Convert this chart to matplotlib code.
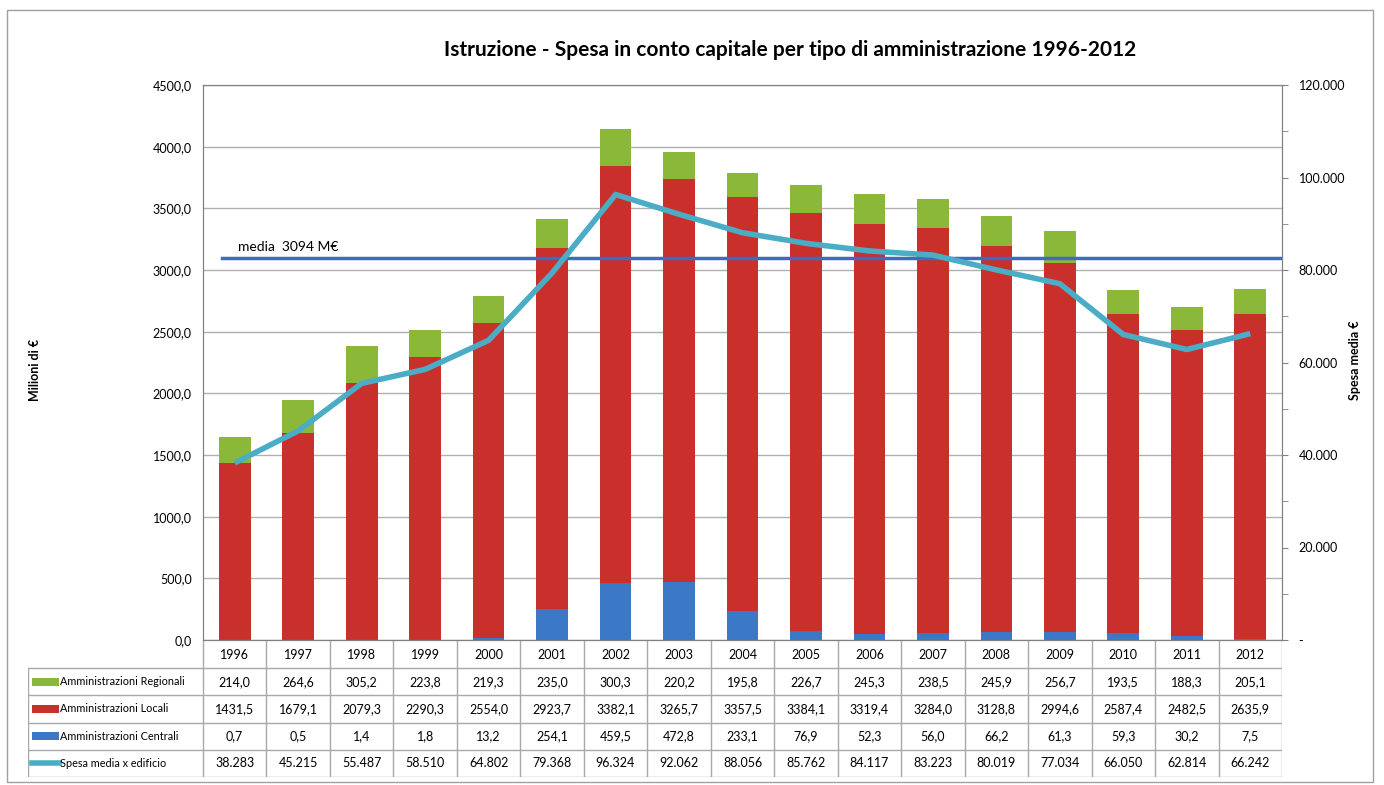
import matplotlib.pyplot as plt
from matplotlib.patches import Rectangle
from matplotlib.ticker import FuncFormatter, MultipleLocator

years = [str(y) for y in range(1996, 2013)]
regionali = [214.0, 264.6, 305.2, 223.8, 219.3, 235.0, 300.3, 220.2, 195.8,
             226.7, 245.3, 238.5, 245.9, 256.7, 193.5, 188.3, 205.1]
locali = [1431.5, 1679.1, 2079.3, 2290.3, 2554.0, 2923.7, 3382.1, 3265.7, 3357.5,
          3384.1, 3319.4, 3284.0, 3128.8, 2994.6, 2587.4, 2482.5, 2635.9]
centrali = [0.7, 0.5, 1.4, 1.8, 13.2, 254.1, 459.5, 472.8, 233.1,
            76.9, 52.3, 56.0, 66.2, 61.3, 59.3, 30.2, 7.5]
spesa_media = [38283, 45215, 55487, 58510, 64802, 79368, 96324, 92062, 88056,
               85762, 84117, 83223, 80019, 77034, 66050, 62814, 66242]
media = 3094

c_green = "#8cb83a"
c_red = "#c9302c"
c_blue = "#3b78c8"
c_line = "#4bacc6"
c_media = "#3a6cc0"
grid_c = "#b0b0b0"

plt.rcParams["font.family"] = ["Lato", "DejaVu Sans"]

W, H = 1384, 785
fig = plt.figure(figsize=(W / 100, H / 100), dpi=100)


def px(x0, y0, x1, y1):
    return [x0 / W, 1 - y1 / H, (x1 - x0) / W, (y1 - y0) / H]


# outer frame
fig.patches.append(Rectangle((7 / W, 3 / H), 1366 / W, (H - 13) / H,
                             transform=fig.transFigure, fill=False,
                             ec="#a0a0a0", lw=1))

ax = fig.add_axes(px(203, 85, 1282, 640))
x = list(range(len(years)))
ax.bar(x, centrali, width=0.5, color=c_blue, zorder=2)
bottom2 = [c for c in centrali]
ax.bar(x, locali, width=0.5, bottom=bottom2, color=c_red, zorder=2)
bottom3 = [c + l for c, l in zip(centrali, locali)]
ax.bar(x, regionali, width=0.5, bottom=bottom3, color=c_green, zorder=2)

ax.set_xlim(-0.5, len(years) - 0.5)
ax.set_ylim(0, 4500)
ax.yaxis.set_major_locator(MultipleLocator(500))
ax.yaxis.set_major_formatter(FuncFormatter(lambda v, p: f"{v:.1f}".replace(".", ",")))
ax.grid(axis="y", color=grid_c, lw=1, zorder=0)
ax.set_xticks([])
ax.tick_params(axis="y", length=0, labelsize=9, pad=8)
for s in ax.spines.values():
    s.set_color("#808080")

ax.plot([-0.2, 16.6], [media, media], color=c_media, lw=2.5, zorder=3)
ax.text(0.05, media + 40, "media  3094 M€", fontsize=10, va="bottom", zorder=4)

ax2 = ax.twinx()
ax2.plot(x, spesa_media, color=c_line, lw=4, zorder=5, solid_capstyle="butt")
ax2.set_ylim(0, 120000)
ax2.yaxis.set_major_locator(MultipleLocator(20000))
ax2.yaxis.set_minor_locator(MultipleLocator(10000))
ax2.yaxis.set_major_formatter(FuncFormatter(
    lambda v, p: "-" if v == 0 else f"{int(v):,}".replace(",", ".")))
ax2.tick_params(axis="y", which="both", length=4, color="#808080", labelsize=9, pad=8)
for s in ax2.spines.values():
    s.set_color("#808080")

fig.text(35 / W, 1 - 370 / H, "Milioni di €", rotation=90, fontsize=9,
         fontweight="bold", ha="center", va="center")
fig.text(1355 / W, 1 - 360 / H, "Spesa media €", rotation=90, fontsize=9,
         fontweight="bold", ha="center", va="center")

fig.text(790 / W, 1 - 50 / H,
         "Istruzione - Spesa in conto capitale per tipo di amministrazione 1996-2012",
         fontsize=15, fontweight="bold", ha="center", va="center")

# data table
lab_w = (203 - 28) / 63.47
tab = fig.add_axes(px(28, 641, 1282, 777))
tab.set_xlim(-0.5 - lab_w, len(years) - 0.5)
tab.set_ylim(5, 0)
tab.axis("off")
line_c = "#a8a8a8"
row_names = ["Amministrazioni Regionali", "Amministrazioni Locali",
             "Amministrazioni Centrali", "Spesa media x edificio"]
row_colors = [c_green, c_red, c_blue, c_line]
rows = [
    [f"{v:.1f}".replace(".", ",") for v in regionali],
    [f"{v:.1f}".replace(".", ",") for v in locali],
    [f"{v:.1f}".replace(".", ",") for v in centrali],
    [f"{v:,}".replace(",", ".") for v in spesa_media],
]
left = -0.5 - lab_w
right = len(years) - 0.5
for i, yr in enumerate(years):
    tab.text(i, 0.5, yr, ha="center", va="center", fontsize=9)
for i in range(len(years) + 1):
    tab.plot([i - 0.5, i - 0.5], [0, 5], color=line_c, lw=1)
for j in range(1, 6):
    tab.plot([left, right], [j, j], color=line_c, lw=1)
tab.plot([left, left], [1, 5], color=line_c, lw=1)
for j, (name, col, vals) in enumerate(zip(row_names, row_colors, rows)):
    yc = j + 1.5
    if j < 3:
        tab.add_patch(Rectangle((left + 0.07, yc - 0.15), 0.42, 0.3,
                                color=col, lw=0))
    else:
        tab.plot([left + 0.07, left + 0.49], [yc, yc], color=col, lw=4)
    tab.text(left + 0.5, yc, name, ha="left", va="center", fontsize=7.8)
    for i, v in enumerate(vals):
        tab.text(i, yc, v, ha="center", va="center", fontsize=9)

fig.savefig("out.png", dpi=100)
